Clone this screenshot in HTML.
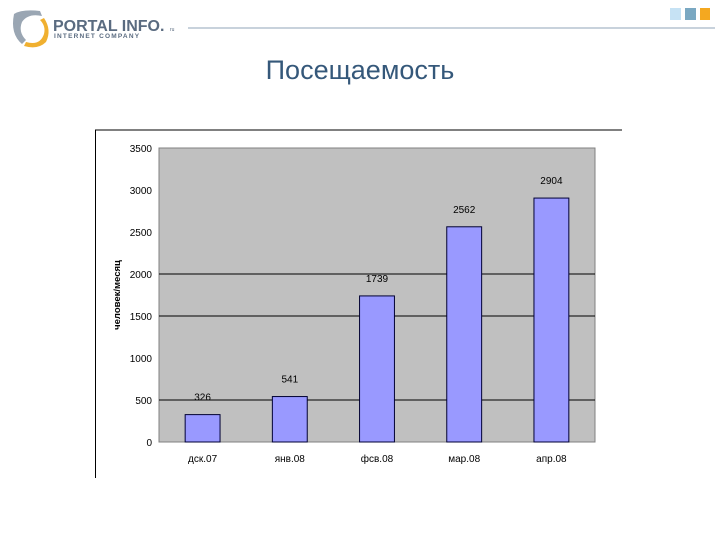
<!DOCTYPE html>
<html><head><meta charset="utf-8"><style>
body{margin:0;width:720px;height:540px;background:#fff;overflow:hidden;font-family:"Liberation Sans",sans-serif;position:relative}
</style></head><body>
<svg width="720" height="540" style="position:absolute;left:0;top:0">
 <g>
  <path d="M14 14 Q22 9 40 11 L42 16 Q28 13 22 22 Q18 32 26 40 L22 44 Q10 34 14 14Z" fill="#9aa6b3"/>
  <path d="M26 42 Q40 46 44 34 Q46 26 40 20 L44 18 Q52 30 46 42 Q38 50 24 46Z" fill="#f0b030"/>
  <text x="53" y="31" font-size="16" font-weight="bold" fill="#5a6b80" font-family="Liberation Sans, sans-serif">PORTAL INFO.</text>
  <text x="170" y="31" font-size="5" fill="#5a6b80">ru</text>
  <text x="54" y="38" font-size="6.5" font-weight="bold" fill="#5a6b80" letter-spacing="1.2">INTERNET COMPANY</text>
 </g>
 <line x1="188" y1="28" x2="715" y2="28" stroke="#a8b8c8" stroke-width="1.2"/>
 <rect x="670" y="8" width="11" height="12" fill="#c6e2f4"/>
 <rect x="685" y="8" width="11" height="12" fill="#7aa8c2"/>
 <rect x="700" y="8" width="10" height="12" fill="#f4a820"/>
 <text x="360" y="79" text-anchor="middle" font-size="27" fill="#35587a">Посещаемость</text>
 <line x1="95" y1="130" x2="622" y2="130" stroke="#000"/>
 <line x1="95.5" y1="130" x2="95.5" y2="478" stroke="#000"/>
 <g id="chart"></g>
</svg>
<script>
const categories=["дск.07","янв.08","фев.08","мар.08","апр.08"];
const catLabels=["дск.07","янв.08","фсв.08","мар.08","апр.08"];
const values=[326,541,1739,2562,2904];
const ticks=[0,500,1000,1500,2000,2500,3000,3500];
const gridShown=[500,1500,2000];
const X0=159,X1=595,Y0=442,Y1=148,MAX=3500;
const y=v=>Y0-(v/MAX)*(Y0-Y1);
const step=(X1-X0)/categories.length;
const xc=i=>X0+step*(i+0.5);
const NS="http://www.w3.org/2000/svg";
const g=document.getElementById('chart');
function mk(t,a){const e=document.createElementNS(NS,t);for(const k in a)e.setAttribute(k,a[k]);g.appendChild(e);return e;}
let e=mk('rect',{x:X0,y:Y1,width:X1-X0,height:Y0-Y1,fill:'#c0c0c0',stroke:'#808080'});


gridShown.forEach(v=>{const l=mk('line',{x1:X0,x2:X1,y1:y(v),y2:y(v),stroke:'#000'});

});
ticks.forEach(v=>{const t=mk('text',{x:152,y:y(v)+4,'text-anchor':'end','font-size':10,fill:'#000'});t.textContent=v;

});
const bw=step*0.4;
values.forEach((v,i)=>{
 const r=mk('rect',{x:xc(i)-bw/2,y:y(v),width:bw,height:Y0-y(v),fill:'#9999ff',stroke:'#000033','stroke-width':1});
 
 
 const t=mk('text',{x:xc(i),y:y(v)-14,'text-anchor':'middle','font-size':10,fill:'#000'});t.textContent=v;
 
 
 const c=mk('text',{x:xc(i),y:462,'text-anchor':'middle','font-size':10,fill:'#000'});c.textContent=catLabels[i];
 
 
});
const at=mk('text',{x:0,y:0,transform:'translate(120,295) rotate(-90)','text-anchor':'middle','font-size':9.5,'font-weight':'bold',fill:'#000'});at.textContent='человек/месяц';


</script>
</body></html>
